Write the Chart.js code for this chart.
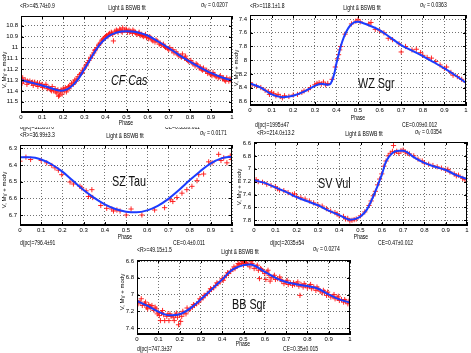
<!DOCTYPE html>
<html><head><meta charset="utf-8">
<script src="https://cdn.jsdelivr.net/npm/chart.js"></script>
<style>
html,body{margin:0;padding:0;background:#fff;width:471px;height:353px;overflow:hidden;position:relative;font-family:"Liberation Sans",Arial,sans-serif;}
canvas{position:absolute;}
.t{position:absolute;font-size:7px;color:#000;white-space:nowrap;line-height:1;transform-origin:0 0;transform:scaleX(0.72);z-index:5;}
.t.c{transform-origin:50% 0;transform:translateX(-50%) scaleX(0.72);}
.t sub{font-size:5px;vertical-align:-1px;line-height:0;}
.clip{position:absolute;overflow:hidden;z-index:5;}
.star{position:absolute;font-size:15px;color:#111;white-space:nowrap;line-height:1;transform-origin:0 0;transform:scaleX(0.72);z-index:6;}
.yt{position:absolute;font-size:6px;white-space:nowrap;line-height:1;transform:translate(-50%,-50%) rotate(-90deg);z-index:5;}
.yt sub{font-size:4.5px;vertical-align:-1px;line-height:0;}
</style></head><body>
<script>
// ---------- data ----------
const phaseTicks = [0,0.1,0.2,0.3,0.4,0.5,0.6,0.7,0.8,0.9,1];

// CF Cas
const cfCasFitPhase = [0,0.05,0.1,0.15,0.19,0.22,0.25,0.275,0.3,0.325,0.35,0.375,0.4,0.425,0.45,0.475,0.5,0.525,0.55,0.6,0.65,0.7,0.75,0.8,0.85,0.9,0.95,1];
const cfCasFitMag = [11.30,11.325,11.35,11.38,11.40,11.385,11.34,11.28,11.20,11.12,11.04,10.97,10.92,10.885,10.865,10.852,10.85,10.852,10.86,10.89,10.945,11.005,11.07,11.13,11.185,11.235,11.275,11.305];
const cfCasPhase = [0,0.005,0.012,0.02,0.028,0.035,0.042,0.05,0.058,0.065,0.072,0.08,0.088,0.095,0.102,0.11,0.118,0.125,0.132,0.14,0.148,0.155,0.162,0.17,0.175,0.182,0.188,0.195,0.2,0.205,0.21,0.218,0.225,0.232,0.24,0.248,0.255,0.262,0.27,0.278,0.285,0.292,0.3,0.308,0.315,0.322,0.33,0.338,0.345,0.352,0.36,0.368,0.375,0.383,0.39,0.398,0.405,0.412,0.42,0.428,0.435,0.438,0.445,0.452,0.46,0.468,0.475,0.482,0.49,0.498,0.505,0.512,0.52,0.528,0.535,0.542,0.55,0.558,0.565,0.572,0.58,0.588,0.595,0.605,0.615,0.625,0.635,0.645,0.655,0.665,0.675,0.685,0.695,0.705,0.715,0.725,0.735,0.745,0.755,0.765,0.775,0.785,0.795,0.805,0.815,0.825,0.835,0.845,0.855,0.865,0.875,0.885,0.895,0.905,0.915,0.925,0.935,0.945,0.955,0.965,0.975,0.985,0.995];
const cfCasMag = [11.29,11.33,11.31,11.30,11.34,11.32,11.31,11.33,11.35,11.32,11.34,11.36,11.33,11.35,11.37,11.36,11.34,11.38,11.37,11.39,11.36,11.40,11.38,11.42,11.39,11.44,11.41,11.43,11.38,11.40,11.37,11.39,11.36,11.35,11.33,11.34,11.30,11.31,11.27,11.25,11.24,11.21,11.19,11.17,11.14,11.12,11.10,11.07,11.05,11.02,11.00,10.98,10.96,10.94,10.92,10.91,10.89,10.90,10.87,10.86,10.88,10.94,10.85,10.84,10.86,10.83,10.85,10.82,10.84,10.83,10.86,10.84,10.85,10.87,10.85,10.86,10.88,10.87,10.89,10.88,10.90,10.89,10.91,10.92,10.91,10.94,10.95,10.94,10.97,10.98,10.97,11.00,11.01,11.00,11.03,11.05,11.04,11.07,11.08,11.06,11.10,11.11,11.13,11.12,11.15,11.17,11.16,11.19,11.20,11.19,11.22,11.24,11.23,11.26,11.25,11.27,11.28,11.26,11.29,11.30,11.28,11.31,11.30];
const cfCasPhase2 = [0.008,0.03,0.055,0.078,0.1,0.122,0.145,0.165,0.178,0.19,0.215,0.228,0.25,0.265,0.29,0.31,0.33,0.35,0.37,0.385,0.40,0.415,0.43,0.455,0.47,0.48,0.5,0.515,0.53,0.545,0.56,0.575,0.59,0.61,0.62,0.64,0.66,0.68,0.7,0.72,0.74,0.76,0.78,0.79,0.81,0.83,0.85,0.86,0.88,0.9,0.91,0.92,0.94,0.96,0.97,0.99];
const cfCasMag2 = [11.28,11.31,11.32,11.33,11.34,11.36,11.40,11.41,11.45,11.39,11.41,11.38,11.32,11.29,11.23,11.16,11.09,11.03,10.97,10.93,10.90,10.88,10.87,10.85,10.84,10.86,10.84,10.86,10.84,10.87,10.86,10.89,10.88,10.90,10.93,10.93,10.96,10.99,11.02,11.02,11.06,11.09,11.08,11.12,11.14,11.15,11.18,11.21,11.21,11.25,11.23,11.26,11.27,11.28,11.31,11.29];
const cfCasTicks = [10.8,10.9,11,11.1,11.2,11.3,11.4,11.5];

// WZ Sgr
const wzSgrFitPhase = [0,0.05,0.1,0.15,0.2,0.25,0.3,0.33,0.36,0.37,0.38,0.39,0.4,0.41,0.42,0.435,0.45,0.465,0.48,0.5,0.525,0.55,0.6,0.65,0.7,0.75,0.8,0.85,0.9,0.95,1];
const wzSgrFitMag = [8.34,8.40,8.50,8.54,8.52,8.46,8.375,8.345,8.36,8.355,8.30,8.20,8.05,7.92,7.80,7.66,7.56,7.49,7.45,7.44,7.46,7.49,7.56,7.67,7.78,7.86,7.94,8.03,8.12,8.22,8.33];
const wzSgrPhase = [0,0.01,0.03,0.05,0.07,0.085,0.09,0.1,0.11,0.12,0.13,0.14,0.15,0.16,0.18,0.2,0.22,0.24,0.25,0.27,0.28,0.3,0.31,0.32,0.33,0.34,0.35,0.36,0.38,0.395,0.405,0.41,0.415,0.42,0.44,0.47,0.49,0.5,0.51,0.55,0.56,0.58,0.6,0.62,0.64,0.66,0.69,0.7,0.72,0.75,0.77,0.79,0.8,0.82,0.84,0.86,0.88,0.9,0.91,0.93,0.94,0.96,0.98,1];
const wzSgrMag = [8.33,8.36,8.38,8.40,8.44,8.46,8.50,8.47,8.49,8.52,8.50,8.53,8.55,8.52,8.53,8.51,8.50,8.47,8.45,8.43,8.40,8.36,8.34,8.33,8.35,8.32,8.36,8.34,8.28,8.10,7.98,7.92,7.85,7.80,7.62,7.47,7.43,7.41,7.44,7.47,7.45,7.55,7.57,7.60,7.68,7.70,7.76,7.88,7.80,7.85,7.84,7.89,7.93,7.96,7.97,8.02,8.07,8.12,8.10,8.18,8.22,8.24,8.28,8.32];
const wzSgrTicks = [7.4,7.6,7.8,8,8.2,8.4,8.6];

// SZ Tau
const szTauFitPhase = [0,0.05,0.1,0.15,0.2,0.25,0.3,0.35,0.4,0.45,0.5,0.55,0.6,0.65,0.7,0.75,0.8,0.85,0.9,0.95,1];
const szTauFitMag = [6.353,6.353,6.367,6.397,6.44,6.495,6.55,6.597,6.636,6.664,6.68,6.684,6.672,6.645,6.603,6.55,6.492,6.437,6.39,6.36,6.35];
const szTauPhase = [0,0.028,0.05,0.1,0.126,0.15,0.165,0.181,0.197,0.236,0.252,0.283,0.291,0.312,0.339,0.323,0.343,0.381,0.409,0.433,0.441,0.457,0.472,0.501,0.524,0.575,0.635,0.682,0.709,0.721,0.74,0.764,0.787,0.811,0.835,0.843,0.866,0.89,0.906,0.937,0.948,0.961,0.976,0.992,0.997];
const szTauMag = [6.377,6.353,6.367,6.373,6.387,6.403,6.417,6.431,6.458,6.502,6.514,6.528,6.538,6.555,6.548,6.589,6.595,6.643,6.66,6.664,6.676,6.67,6.676,6.70,6.664,6.70,6.67,6.656,6.609,6.619,6.595,6.569,6.548,6.528,6.494,6.458,6.454,6.381,6.387,6.336,6.373,6.357,6.387,6.346,6.367];
const szTauTicks = [6.3,6.4,6.5,6.6,6.7];

// SV Vul
const svVulFitPhase = [0,0.05,0.1,0.15,0.2,0.25,0.3,0.35,0.4,0.45,0.48,0.5,0.53,0.56,0.6,0.62,0.65,0.68,0.7,0.72,0.75,0.8,0.85,0.9,0.95,1];
const svVulFitMag = [7.18,7.22,7.29,7.36,7.44,7.505,7.567,7.65,7.72,7.79,7.774,7.74,7.635,7.43,7.09,6.885,6.755,6.72,6.72,6.745,6.82,6.91,6.97,7.02,7.10,7.16];
const svVulPhase = [0,0.01,0.02,0.04,0.06,0.08,0.1,0.11,0.12,0.14,0.16,0.18,0.19,0.2,0.22,0.24,0.26,0.28,0.3,0.32,0.34,0.36,0.38,0.39,0.4,0.42,0.43,0.44,0.45,0.46,0.47,0.48,0.5,0.52,0.54,0.55,0.56,0.57,0.58,0.59,0.6,0.61,0.62,0.63,0.64,0.65,0.655,0.66,0.67,0.68,0.69,0.7,0.71,0.72,0.73,0.75,0.77,0.79,0.8,0.82,0.84,0.86,0.88,0.9,0.91,0.92,0.94,0.95,0.96,0.98,0.99,1];
const svVulMag = [7.19,7.17,7.20,7.21,7.24,7.26,7.28,7.31,7.33,7.34,7.37,7.40,7.39,7.43,7.45,7.47,7.50,7.53,7.56,7.58,7.62,7.66,7.68,7.70,7.73,7.74,7.78,7.77,7.81,7.80,7.79,7.78,7.73,7.67,7.57,7.50,7.42,7.35,7.25,7.16,7.08,6.96,6.88,6.80,6.76,6.73,6.64,6.75,6.73,6.76,6.72,6.71,6.74,6.76,6.77,6.80,6.85,6.88,6.91,6.93,6.95,6.97,6.99,7.02,7.01,7.05,7.08,7.11,7.10,7.15,7.17,7.16];
const svVulTicks = [6.6,6.8,7,7.2,7.4,7.6,7.8];

// BB Sgr
const bbSgrFitPhase = [0,0.05,0.1,0.15,0.2,0.25,0.3,0.35,0.4,0.45,0.5,0.53,0.55,0.6,0.65,0.7,0.75,0.8,0.85,0.9,0.95,1];
const bbSgrFitMag = [7.077,7.136,7.204,7.247,7.235,7.164,7.057,6.938,6.819,6.70,6.649,6.641,6.653,6.729,6.80,6.851,6.879,6.899,6.93,6.998,7.057,7.097];
const bbSgrPhase = [0,0.005,0.015,0.025,0.035,0.045,0.05,0.055,0.065,0.07,0.08,0.09,0.095,0.1,0.105,0.11,0.115,0.125,0.13,0.14,0.15,0.155,0.16,0.17,0.175,0.18,0.19,0.195,0.2,0.205,0.21,0.22,0.23,0.24,0.25,0.26,0.27,0.28,0.29,0.3,0.31,0.32,0.33,0.34,0.35,0.36,0.37,0.38,0.39,0.4,0.41,0.42,0.43,0.44,0.45,0.46,0.47,0.48,0.49,0.5,0.505,0.51,0.52,0.53,0.54,0.55,0.56,0.57,0.575,0.58,0.59,0.6,0.605,0.61,0.62,0.625,0.63,0.64,0.65,0.66,0.67,0.68,0.69,0.7,0.71,0.72,0.73,0.74,0.75,0.76,0.765,0.77,0.78,0.79,0.8,0.81,0.82,0.83,0.84,0.85,0.86,0.87,0.88,0.89,0.9,0.91,0.92,0.93,0.94,0.95,0.96,0.97,0.98,0.99,1];
const bbSgrMag = [7.07,7.11,7.09,7.13,7.11,7.15,7.17,7.12,7.16,7.13,7.19,7.17,7.23,7.21,7.25,7.31,7.22,7.24,7.31,7.26,7.31,7.23,7.26,7.27,7.31,7.25,7.27,7.36,7.24,7.32,7.26,7.22,7.23,7.19,7.17,7.15,7.13,7.11,7.09,7.06,7.04,7.01,6.99,6.96,6.94,6.92,6.89,6.87,6.85,6.81,6.80,6.77,6.75,6.72,6.70,6.69,6.66,6.64,6.63,6.65,6.60,6.62,6.64,6.67,6.63,6.69,6.67,6.71,6.81,6.69,6.72,6.75,6.82,6.73,6.77,6.84,6.80,6.79,6.82,6.81,6.79,6.84,6.87,6.85,6.88,6.86,6.89,6.88,6.87,6.90,7.01,6.88,6.91,6.89,6.92,6.90,6.93,6.91,6.95,6.93,6.96,6.98,6.97,7.01,7.00,7.03,7.02,7.05,7.04,7.07,7.06,7.09,7.08,7.11,7.10];
const bbSgrPhase2 = [0.02,0.04,0.06,0.085,0.12,0.145,0.185,0.215,0.235,0.265,0.295,0.315,0.345,0.375,0.405,0.425,0.455,0.475,0.495,0.515,0.535,0.565,0.585,0.615,0.645,0.675,0.705,0.735,0.755,0.785,0.815,0.845,0.875,0.895,0.925,0.945,0.975,0.995];
const bbSgrMag2 = [7.05,7.09,7.14,7.15,7.19,7.23,7.22,7.20,7.16,7.12,7.05,7.01,6.93,6.86,6.83,6.74,6.67,6.63,6.61,6.63,6.61,6.65,6.70,6.71,6.77,6.82,6.83,6.86,6.85,6.87,6.88,6.91,6.95,6.97,7.00,7.02,7.06,7.08];
const bbSgrTicks = [6.6,6.8,7,7.2,7.4];

// ---------- layout ----------
const panels = [
  {L:21, T:16, R:232, B:112, yMin:10.71, yMax:11.595, ticks:cfCasTicks, fp:cfCasFitPhase, fm:cfCasFitMag, p:cfCasPhase.concat(cfCasPhase2), m:cfCasMag.concat(cfCasMag2), z:1},
  {L:250, T:15, R:466, B:105, yMin:7.34, yMax:8.655, ticks:wzSgrTicks, fp:wzSgrFitPhase, fm:wzSgrFitMag, p:wzSgrPhase, m:wzSgrMag, z:1},
  {L:20, T:145, R:232, B:225, yMin:6.28, yMax:6.76, ticks:szTauTicks, fp:szTauFitPhase, fm:szTauFitMag, p:szTauPhase, m:szTauMag, z:2},
  {L:254, T:142, R:467, B:225, yMin:6.585, yMax:7.873, ticks:svVulTicks, fp:svVulFitPhase, fm:svVulFitMag, p:svVulPhase, m:svVulMag, z:2},
  {L:137, T:260, R:350, B:334, yMin:6.588, yMax:7.47, ticks:bbSgrTicks, fp:bbSgrFitPhase, fm:bbSgrFitMag, p:bbSgrPhase.concat(bbSgrPhase2), m:bbSgrMag.concat(bbSgrMag2), z:3}
];

const framePlugin = {
  id:'frame',
  afterDatasetsDraw(chart){
    const {ctx, chartArea:a, scales} = chart;
    ctx.save();
    ctx.setLineDash([]);
    ctx.strokeStyle = '#000';
    ctx.lineWidth = 1;
    ctx.strokeRect(a.left+0.5, a.top+0.5, a.right-a.left-1, a.bottom-a.top-1);
    ctx.beginPath();
    scales.x.ticks.forEach(t => {
      const px = Math.round(scales.x.getPixelForValue(t.value)) + 0.5;
      ctx.moveTo(px, a.bottom); ctx.lineTo(px, a.bottom-3);
      ctx.moveTo(px, a.top); ctx.lineTo(px, a.top+3);
    });
    scales.y.ticks.forEach(t => {
      const py = Math.round(scales.y.getPixelForValue(t.value)) + 0.5;
      ctx.moveTo(a.left, py); ctx.lineTo(a.left+3, py);
      ctx.moveTo(a.right, py); ctx.lineTo(a.right-3, py);
    });
    ctx.stroke();
    ctx.restore();
  }
};

const tickFont = {family:"'Liberation Sans',Arial,sans-serif", size:6};
const Wy = 22, Hx = 10, PT = 8, PR = 6;

panels.forEach(cfg => {
  const c = document.createElement('canvas');
  const w = cfg.R - cfg.L + Wy + PR, h = cfg.B - cfg.T + PT + Hx;
  c.width = w; c.height = h;
  c.style.left = (cfg.L - Wy) + 'px'; c.style.top = (cfg.T - PT) + 'px';
  c.style.width = w + 'px'; c.style.height = h + 'px'; c.style.zIndex = cfg.z;
  document.body.appendChild(c);
  const fit = cfg.fp.map((x,i) => ({x, y: cfg.fm[i]}));
  const pts = cfg.p.map((x,i) => ({x, y: cfg.m[i]})).filter(d => d.y !== undefined);
  new Chart(c, {
    type:'scatter',
    data:{datasets:[
      {type:'line', data:fit, showLine:true, borderColor:'#1c3cff', borderWidth:2, pointRadius:0, fill:false, cubicInterpolationMode:'monotone'},
      {data:pts, pointStyle:'cross', pointRadius:2.6, borderColor:'rgba(255,20,20,0.9)', borderWidth:1, showLine:false}
    ]},
    options:{
      responsive:false, animation:false, devicePixelRatio:1,
      events:[],
      plugins:{legend:{display:false}, tooltip:{enabled:false}},
      layout:{padding:{left:0, top:PT, right:PR, bottom:0}},
      scales:{
        x:{type:'linear', min:0, max:1,
           afterBuildTicks:s => { s.ticks = phaseTicks.map(v => ({value:v})); },
           afterFit:s => { s.height = Hx; },
           ticks:{font:tickFont, color:'#000', padding:2, maxRotation:0, autoSkip:false,
                  callback:v => (v===0 ? '0' : v===1 ? '1' : v.toFixed(1))},
           grid:{color:'rgba(0,0,0,0.55)', lineWidth:1, drawTicks:false},
           border:{display:true, color:'#000', dash:[1,2]}},
        y:{type:'linear', reverse:true, min:cfg.yMin, max:cfg.yMax,
           afterBuildTicks:s => { s.ticks = cfg.ticks.map(v => ({value:v})); },
           afterFit:s => { s.width = Wy; },
           ticks:{font:tickFont, color:'#000', padding:3, autoSkip:false, callback:v => String(v)},
           grid:{color:'rgba(0,0,0,0.55)', lineWidth:1, drawTicks:false},
           border:{display:true, color:'#000', dash:[1,2]}}
      }
    },
    plugins:[framePlugin]
  });
});

// ---------- texts ----------
function txt(html, x, y, center){
  const d = document.createElement('div');
  d.className = 't' + (center ? ' c' : '');
  d.innerHTML = html; d.style.left = x + 'px'; d.style.top = y + 'px';
  document.body.appendChild(d);
}
function clipped(html, x, y, clipTop){
  const w = document.createElement('div');
  w.className = 'clip';
  w.style.left = x + 'px'; w.style.top = clipTop + 'px'; w.style.width = '60px'; w.style.height = '6px';
  const d = document.createElement('div');
  d.className = 't'; d.innerHTML = html; d.style.left = '0px'; d.style.top = (y - clipTop) + 'px';
  w.appendChild(d); document.body.appendChild(w);
}
function star(name, x, y, italic){
  const d = document.createElement('div');
  d.className = 'star'; d.textContent = name;
  d.style.left = x + 'px'; d.style.top = y + 'px';
  if (italic) d.style.fontStyle = 'italic';
  document.body.appendChild(d);
}
function ytitle(x, y){
  const d = document.createElement('div');
  d.className = 'yt';
  d.innerHTML = 'V, M<sub>V</sub> + mod<sub>V</sub>';
  d.style.left = x + 'px'; d.style.top = y + 'px';
  document.body.appendChild(d);
}
const sig = v => '&sigma;<sub>V</sub> = ' + v;

// CF Cas
txt('&lt;R&gt;=45.74&plusmn;0.9', 20, 2);
txt('Light &amp; BSWB fit', 127, 4, true);
txt(sig('0.0207'), 201, 1);
txt('Phase', 126, 119, true);
clipped('d(pc)=3139&plusmn;70', 20, 123, 126.5);
clipped('CE=0.53&plusmn;0.011', 165, 123, 126.5);
ytitle(3.5, 70);
star('CF Cas', 111, 71.5, true);

// WZ Sgr
txt('&lt;R&gt;=118.1&plusmn;1.8', 250, 2);
txt('Light &amp; BSWB fit', 362, 4, true);
txt(sig('0.0363'), 420, 1);
txt('Phase', 358, 114, true);
txt('d(pc)=1995&plusmn;47', 255, 121);
txt('CE=0.09&plusmn;0.012', 402, 121);
ytitle(236, 68);
star('WZ Sgr', 358, 75);

// SZ Tau
txt('&lt;R&gt;=36.99&plusmn;3.3', 20, 131);
txt('Light &amp; BSWB fit', 125, 132, true);
txt(sig('0.0171'), 200, 129);
txt('Phase', 125, 233, true);
txt('d(pc)=796.4&plusmn;91', 20, 239);
txt('CE=0.4&plusmn;0.011', 173, 239);
ytitle(3.5, 190);
star('SZ Tau', 112, 173);

// SV Vul
txt('&lt;R&gt;=214.0&plusmn;13.2', 257, 129);
txt('Light &amp; BSWB fit', 364, 130, true);
txt(sig('0.0354'), 415, 128);
txt('Phase', 361, 233, true);
txt('d(pc)=2035&plusmn;54', 270, 239);
txt('CE=0.47&plusmn;0.012', 378, 239);
ytitle(239, 187);
star('SV Vul', 318, 175);

// BB Sgr
txt('&lt;R&gt;=49.15&plusmn;1.5', 137, 246);
txt('Light &amp; BSWB fit', 240, 248, true);
txt(sig('0.0274'), 313, 245);
txt('Phase', 243, 340, true);
txt('d(pc)=747.3&plusmn;37', 137, 345);
txt('CE=0.35&plusmn;0.015', 283, 345);
ytitle(121.5, 292);
star('BB Sgr', 232, 296);
</script>
</body></html>
